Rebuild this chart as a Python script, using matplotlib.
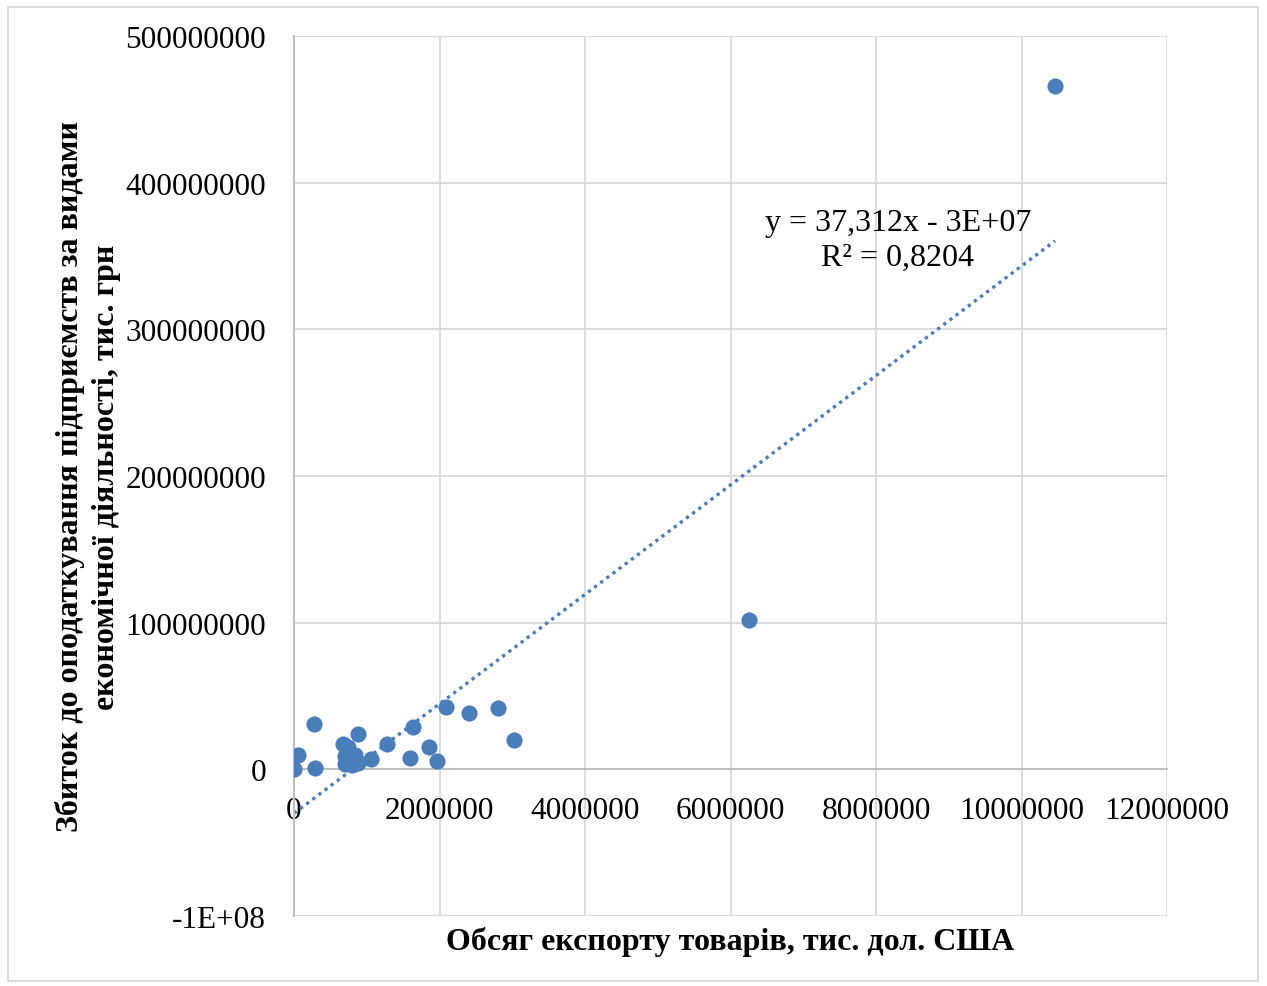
import matplotlib
matplotlib.use("Agg")
import matplotlib.pyplot as plt
from matplotlib.ticker import FuncFormatter, MultipleLocator
from matplotlib.patches import Rectangle
import numpy as np

# Data (export volume, thousand USD ; loss before tax, thousand UAH)
export_volume = [0, 55000, 275000, 285000, 680000, 875000, 700000, 740000, 770000,
                 700000, 800000, 880000, 840000, 1060000, 1280000, 1630000, 1590000,
                 1860000, 1970000, 2090000, 2400000, 2800000, 3020000, 6250000, 10460000]
loss_before_tax = [0, 9.5e6, 31e6, 0.7e6, 17e6, 24e6, 9e6, 15e6, 7e6,
                   3.4e6, 3e6, 4e6, 10e6, 7e6, 17e6, 29e6, 8e6,
                   15.5e6, 6e6, 42.5e6, 38.6e6, 42e6, 20e6, 101.6e6, 466e6]
trend_slope = 37.312
trend_intercept = -3e7
equation_text = "y = 37,312x - 3E+07\nR² = 0,8204"
x_label = "Обсяг експорту товарів, тис. дол. США"
y_label = "Збиток до оподаткування підприємств за видами\nекономічної діяльності, тис. грн"

plt.rcParams['font.family'] = ['Liberation Serif', 'DejaVu Serif']

fig = plt.figure(figsize=(12.67, 9.87), dpi=100)
ax = fig.add_axes([294/1267, 1-917/987, (1167-294)/1267, (917-37)/987])

blue = '#4a7ebb'
grid_c = '#d9d9d9'

xs = np.array(export_volume)
xt = np.array([xs.min(), xs.max()])
ax.plot(xt, trend_slope*xt + trend_intercept, linestyle=(0, (1, 1.3)), color=blue,
        linewidth=2.4, zorder=2)
ax.scatter(export_volume, loss_before_tax, s=135, color=blue, zorder=3, linewidths=0)

ax.set_xlim(0, 12000000)
ax.set_ylim(-1e8, 5e8)
ax.xaxis.set_major_locator(MultipleLocator(2000000))
ax.yaxis.set_major_locator(MultipleLocator(1e8))

def yfmt(v, p):
    if abs(v + 1e8) < 1:
        return "-1E+08"
    return f"{int(round(v))}"
ax.yaxis.set_major_formatter(FuncFormatter(yfmt))
ax.xaxis.set_major_formatter(FuncFormatter(lambda v, p: f"{int(round(v))}"))

ax.grid(True, color=grid_c, linewidth=1.3, zorder=0)
ax.set_axisbelow(True)
for s in ['top', 'right']:
    ax.spines[s].set_visible(False)
ax.spines['bottom'].set_position(('data', 0))
ax.spines['bottom'].set_color('#bfbfbf')
ax.spines['bottom'].set_linewidth(1.5)
ax.spines['left'].set_color('#bfbfbf')
ax.spines['left'].set_linewidth(1.5)
ax.tick_params(axis='both', length=0, labelsize=22.5, colors='black')
ax.tick_params(axis='x', pad=19)
ax.tick_params(axis='y', pad=20)

ax.text(8.30e6, 361e6, equation_text, ha='center', va='center', fontsize=23,
        linespacing=1.25)

fig.text(730.5/1267, 1-942/987, x_label, ha='center', va='center', fontsize=23,
         fontweight='bold')
fig.text(88/1267, 1-477/987, y_label, ha='center', va='center', rotation=90,
         fontsize=23, fontweight='bold', linespacing=1.3)

fig.patches.append(Rectangle((8/1267, 1-982/987), 1250/1267, 974/987,
                             transform=fig.transFigure, fill=False,
                             edgecolor=grid_c, linewidth=1.3))

fig.savefig('out.png', dpi=100)
